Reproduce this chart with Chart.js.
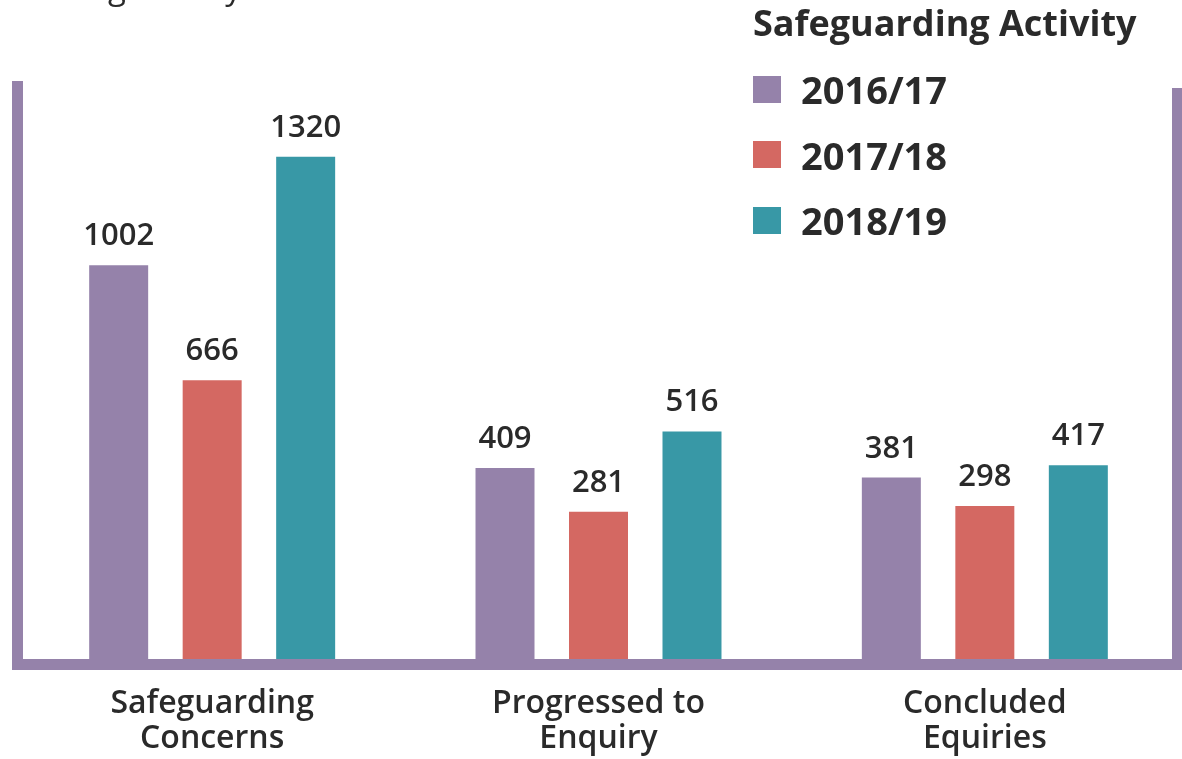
<!DOCTYPE html>
<html>
<head>
<meta charset="utf-8">
<script src="https://cdn.jsdelivr.net/npm/chart.js@4/dist/chart.umd.min.js"></script>
<style>
  html, body { margin: 0; padding: 0; background: #fff; overflow: hidden; }
  #wrap { position: relative; width: 1182px; height: 759px; }
  #cut { position: absolute; left: -32px; top: -30px; font: 400 33px/33px "Open Sans"; color: #2a2a2a; white-space: nowrap; }
  #legend { position: absolute; left: 753px; top: 0; font-family: "Open Sans"; color: #2a2a2a; }
  #legend .title { position: absolute; left: 0; top: 5px; font-size: 36px; font-weight: 700; line-height: 36px; white-space: nowrap; }
  #legend .row { position: absolute; left: 0; height: 66px; display: flex; align-items: center; white-space: nowrap; }
  #legend .box { width: 28px; height: 27px; margin-right: 20px; }
  #legend .lbl { font-size: 38px; font-weight: 700; line-height: 38px; }
</style>
</head>
<body>
<div id="wrap">
  <canvas id="chart" width="1182" height="759"></canvas>
  <div id="cut">Increasing activity</div>
  <div id="legend"></div>
</div>
<script>
// data
const categories = [['Safeguarding', 'Concerns'], ['Progressed to', 'Enquiry'], ['Concluded', 'Equiries']];
const years = ['2016/17', '2017/18', '2018/19'];
const values2016 = [1002, 409, 381];
const values2017 = [666, 281, 298];
const values2018 = [1320, 516, 417];
const colours = ['#9582aa', '#d46862', '#3898a6'];

const frameColour = '#9582aa';
const textColour = '#2a2a2a';
const yMin = -150;

// purple frame round the bars
const framePlugin = {
    id: 'frame',
    beforeDatasetsDraw(chart) {
        const ctx = chart.ctx;
        const b = chart.chartArea.bottom;
        ctx.save();
        ctx.fillStyle = frameColour;
        ctx.fillRect(12, 81, 11, b + 11 - 81);
        ctx.fillRect(1172, 88, 10, b + 11 - 88);
        ctx.fillRect(12, b, 1170, 11);
        ctx.restore();
    }
};

// numbers above the bars
const valuePlugin = {
    id: 'values',
    afterDatasetsDraw(chart) {
        const ctx = chart.ctx;
        ctx.save();
        ctx.font = '600 31px "Open Sans"';
        ctx.fillStyle = textColour;
        ctx.textAlign = 'center';
        ctx.textBaseline = 'alphabetic';
        chart.data.datasets.forEach((ds, i) => {
            chart.getDatasetMeta(i).data.forEach((bar, j) => {
                ctx.fillText(ds.data[j], bar.x, bar.y - 20);
            });
        });
        ctx.restore();
    }
};

// html legend built from the datasets
const legendPlugin = {
    id: 'htmlLegend',
    afterUpdate(chart) {
        const el = document.getElementById('legend');
        el.innerHTML = '<div class="title">Safeguarding Activity</div>';
        chart.data.datasets.forEach((ds, i) => {
            const row = document.createElement('div');
            row.className = 'row';
            row.style.top = (56 + i * 65.5) + 'px';
            row.innerHTML = '<div class="box" style="background:' + ds.backgroundColor + '"></div><div class="lbl">' + ds.label + '</div>';
            el.appendChild(row);
        });
    }
};

const datasets = [values2016, values2017, values2018].map((vals, i) => ({
    label: years[i],
    data: vals,
    backgroundColor: colours[i],
    base: yMin,
    categoryPercentage: 0.726,
    barPercentage: 0.631
}));

new Chart(document.getElementById('chart'), {
    type: 'bar',
    data: { labels: categories, datasets: datasets },
    plugins: [framePlugin, valuePlugin, legendPlugin],
    options: {
        responsive: false,
        animation: false,
        layout: { padding: { left: 19, right: 4, top: 61, bottom: 0 } },
        plugins: { legend: { display: false }, tooltip: { enabled: false } },
        scales: {
            x: {
                grid: { display: false, drawTicks: false },
                border: { display: false },
                ticks: {
                    padding: 27,
                    color: textColour,
                    font: { family: 'Open Sans', size: 32, weight: '600', lineHeight: '35px' },
                    maxRotation: 0
                },
                afterFit(scale) { scale.height = 100; }
            },
            y: {
                display: false,
                min: yMin,
                max: 1600
            }
        }
    }
});
</script>
</body>
</html>
